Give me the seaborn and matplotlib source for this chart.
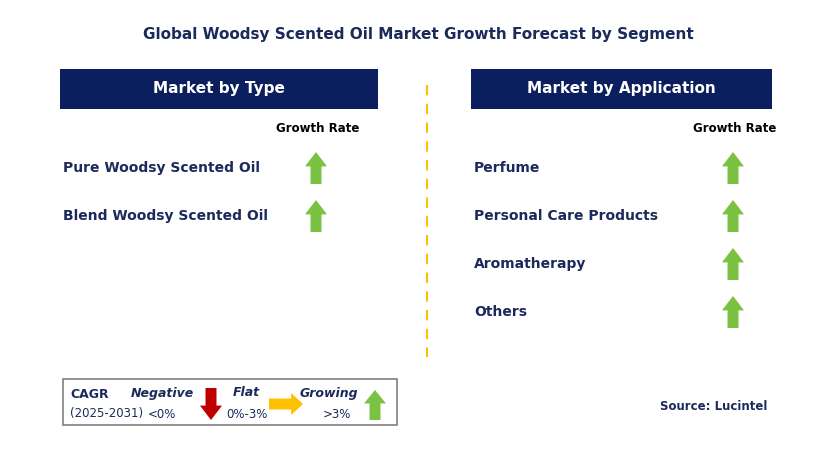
import matplotlib
matplotlib.use("Agg")
import matplotlib.pyplot as plt
import seaborn as sns
from matplotlib.patches import Rectangle, Polygon

sns.set_theme(style="white")

title = "Global Woodsy Scented Oil Market Growth Forecast by Segment"
type_header = "Market by Type"
app_header = "Market by Application"
type_categories = ["Pure Woodsy Scented Oil", "Blend Woodsy Scented Oil"]
type_growth = ["up", "up"]
app_categories = ["Perfume", "Personal Care Products", "Aromatherapy", "Others"]
app_growth = ["up", "up", "up", "up"]

NAVY = "#0b1f5e"
TXT = "#1b2a5a"
GREEN = "#7cc242"
RED = "#c00000"
ORANGE = "#ffc000"

fig = plt.figure(figsize=(8.36, 4.70), dpi=100)
ax = fig.add_axes([0, 0, 1, 1])
ax.set_xlim(0, 836); ax.set_ylim(470, 0); ax.axis("off")
FONT = "DejaVu Sans"

def up_arrow(cx, cy, h=32, w=22, color=GREEN):
    sw = w * 0.5; hh = h * 0.45
    pts = [(cx - sw/2, cy + h/2), (cx + sw/2, cy + h/2), (cx + sw/2, cy - h/2 + hh),
           (cx + w/2, cy - h/2 + hh), (cx, cy - h/2), (cx - w/2, cy - h/2 + hh),
           (cx - sw/2, cy - h/2 + hh)]
    ax.add_patch(Polygon(pts, closed=True, color=color, lw=0))

def down_arrow(cx, cy, h=32, w=22, color=RED):
    sw = w * 0.5; hh = h * 0.45
    pts = [(cx - sw/2, cy - h/2), (cx + sw/2, cy - h/2), (cx + sw/2, cy + h/2 - hh),
           (cx + w/2, cy + h/2 - hh), (cx, cy + h/2), (cx - w/2, cy + h/2 - hh),
           (cx - sw/2, cy + h/2 - hh)]
    ax.add_patch(Polygon(pts, closed=True, color=color, lw=0))

def right_arrow(cx, cy, w=34, h=22, color=ORANGE):
    sh = h * 0.5; hw = w * 0.35
    pts = [(cx - w/2, cy - sh/2), (cx + w/2 - hw, cy - sh/2), (cx + w/2 - hw, cy - h/2),
           (cx + w/2, cy), (cx + w/2 - hw, cy + h/2), (cx + w/2 - hw, cy + sh/2),
           (cx - w/2, cy + sh/2)]
    ax.add_patch(Polygon(pts, closed=True, color=color, lw=0))

ax.text(418, 35, title, ha="center", va="center", fontsize=11, fontweight="bold", color=TXT, family=FONT)

def panel(x0, x1, header, cats, growth, label_x, arrow_x):
    ax.add_patch(Rectangle((x0, 69), x1 - x0, 40, color=NAVY, lw=0))
    ax.text((x0 + x1) / 2, 89, header, ha="center", va="center", fontsize=11,
            fontweight="bold", color="white", family=FONT)
    ax.text(arrow_x + 2, 128, "Growth Rate", ha="center", va="center", fontsize=8.5,
            fontweight="bold", color="black", family=FONT)
    for i, (c, g) in enumerate(zip(cats, growth)):
        y = 168 + 48 * i
        ax.text(label_x, y, c, ha="left", va="center", fontsize=10, fontweight="bold",
                color=TXT, family=FONT)
        if g == "up":
            up_arrow(arrow_x, y)
        elif g == "down":
            down_arrow(arrow_x, y)
        else:
            right_arrow(arrow_x, y)

panel(60, 378, type_header, type_categories, type_growth, 63, 316)
panel(471, 772, app_header, app_categories, app_growth, 474, 733)

ax.plot([427, 427], [85, 357], color=ORANGE, lw=1.5, ls=(0, (5, 4)))

# legend box
ax.add_patch(Rectangle((63, 379), 334, 46, fill=False, ec="#808080", lw=1.2))
ax.text(70, 394, "CAGR", fontsize=9, fontweight="bold", color=TXT, va="center", family=FONT)
ax.text(70, 413, "(2025-2031)", fontsize=8.5, color=TXT, va="center", family=FONT)
ax.text(162, 393, "Negative", fontsize=9, fontweight="bold", style="italic", color=TXT, va="center", ha="center", family=FONT)
ax.text(162, 414, "<0%", fontsize=8.5, color=TXT, va="center", ha="center", family=FONT)
down_arrow(211, 404, h=32, w=22)
ax.text(246, 393, "Flat", fontsize=9, fontweight="bold", style="italic", color=TXT, va="center", ha="center", family=FONT)
ax.text(247, 414, "0%-3%", fontsize=8.5, color=TXT, va="center", ha="center", family=FONT)
right_arrow(286, 404, w=34, h=22)
ax.text(329, 393, "Growing", fontsize=9, fontweight="bold", style="italic", color=TXT, va="center", ha="center", family=FONT)
ax.text(337, 414, ">3%", fontsize=8.5, color=TXT, va="center", ha="center", family=FONT)
up_arrow(375, 405, h=30, w=22)

ax.text(660, 407, "Source: Lucintel", fontsize=8.5, fontweight="bold", color=TXT, va="center", ha="left", family=FONT)

fig.savefig("out.png", dpi=100)
